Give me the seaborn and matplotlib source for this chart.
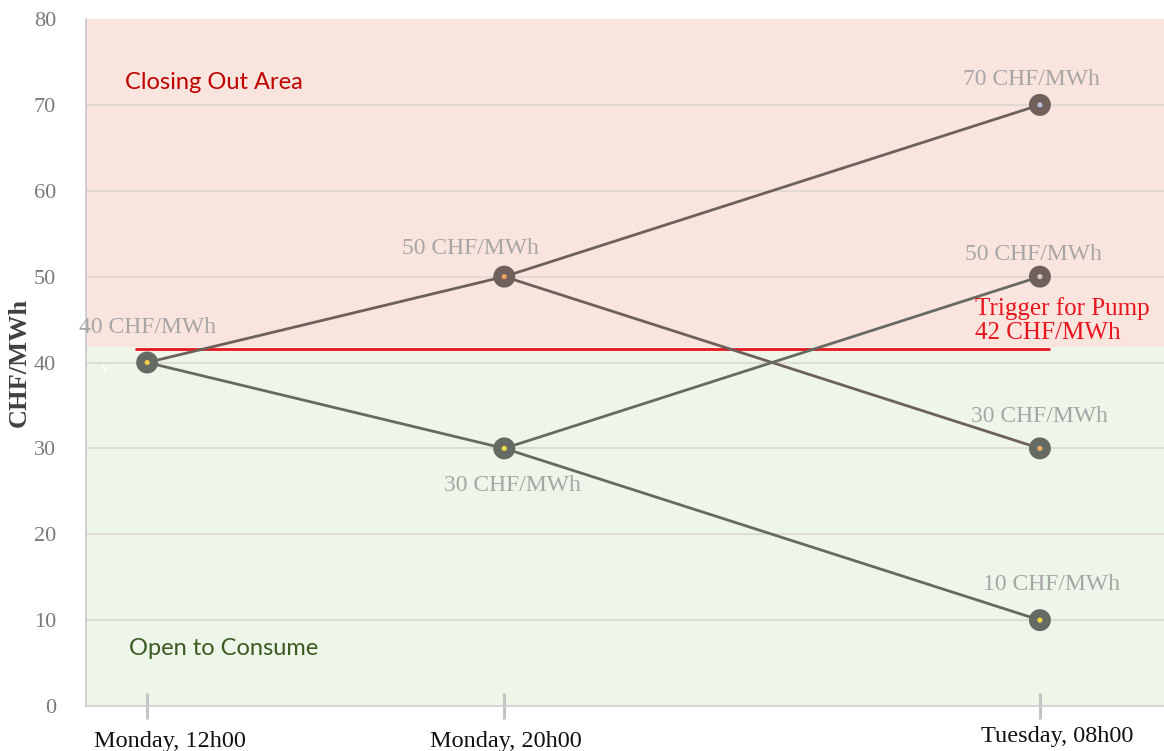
import numpy as np
import pandas as pd
import seaborn as sns
import matplotlib.pyplot as plt
import matplotlib.transforms as mtrans

# x position = hours after Monday 12h00
tick_hours = [0, 8, 20]
tick_labels = ["Monday, 12h00", "Monday, 20h00", "Tuesday, 08h00"]

# price paths, one row per segment
seg_x0 = [0, 0, 8, 8, 8, 8]
seg_x1 = [8, 8, 20, 20, 20, 20]
seg_y0 = [40, 40, 50, 50, 30, 30]
seg_y1 = [50, 30, 70, 30, 50, 10]
seg_branch = ["up", "down", "up", "up", "down", "down"]

# nodes of the tree
node_hours = [0, 8, 8, 20, 20, 20, 20]
node_prices = [40, 50, 30, 70, 50, 30, 10]
node_branch = ["down", "up", "down", "up", "up", "down", "down"]
node_core = ["#f2c94c", "#f0a060", "#f2d94c", "#b8bfe0", "#d8c8c0", "#e8b070", "#f2d94c"]
node_labels = ["40 CHF/MWh", "50 CHF/MWh", "30 CHF/MWh", "70 CHF/MWh",
               "50 CHF/MWh", "30 CHF/MWh", "10 CHF/MWh"]
label_offsets = [(0, 25), (-24, 20), (6, -27), (-6, 18), (-5, 16), (0, 23), (8, 26)]

trigger_drawn = 41.6   # where the red line sits in the picture
trigger_label = "Trigger for Pump\n42 CHF/MWh"

colors = {"up": "#6f605b", "down": "#656b62"}

rows = []
for i in range(len(seg_x0)):
    rows.append({"seg": i, "hour": seg_x0[i], "price": seg_y0[i], "branch": seg_branch[i]})
    rows.append({"seg": i, "hour": seg_x1[i], "price": seg_y1[i], "branch": seg_branch[i]})
df = pd.DataFrame(rows)
nodes = pd.DataFrame({"hour": node_hours, "price": node_prices, "branch": node_branch})

sns.set_style("white")
fig = plt.figure(figsize=(11.64, 7.51), dpi=100)
ax = fig.add_axes([0.0739, 0.0599, 0.9261, 0.9148])

ax.set_xlim(-1.37, 22.78)
ax.set_ylim(0, 80)

# background zones
ax.axhspan(trigger_drawn + 0.15, 80, color="#fae4de", zorder=0, lw=0)
ax.axhspan(0, trigger_drawn + 0.15, color="#eef5e9", zorder=0, lw=0)
ax.set_yticks(np.arange(0, 81, 10))
for y in np.arange(10, 80, 10):
    ax.axhline(y, color="#dcd8d2", lw=1.2, zorder=1)

# trigger line
ax.plot([-0.25, 20.2], [trigger_drawn, trigger_drawn], color="#e8141c", lw=2, zorder=2)

sns.lineplot(data=df, x="hour", y="price", hue="branch", units="seg", estimator=None,
             palette=colors, lw=2, legend=False, ax=ax, zorder=3)
sns.scatterplot(data=nodes, x="hour", y="price", hue="branch", palette=colors,
                s=250, linewidth=0, legend=False, ax=ax, zorder=4)
ax.scatter(node_hours, node_prices, s=14, c=node_core, linewidths=0, zorder=5)

serif = ["Liberation Serif", "DejaVu Serif"]
for h, p, lab, off in zip(node_hours, node_prices, node_labels, label_offsets):
    ax.annotate(lab, (h, p), xytext=off, textcoords="offset points", ha="center",
                va="center", fontsize=17, color="#a6a6a6", family=serif, zorder=6)

ax.text(18.55, 44.9, trigger_label, color="#e8141c", fontsize=18, family=serif,
        ha="left", va="center", linespacing=1.15, zorder=6)
ax.text(-0.5, 72.6, "Closing Out Area", color="#c00000", fontsize=17, family="Lato",
        ha="left", va="center")
ax.text(-0.4, 6.7, "Open to Consume", color="#3a5a20", fontsize=17, family="Lato",
        ha="left", va="center")
ax.text(-0.95, 39.3, "v", color="white", fontsize=12, family=serif, ha="center", va="center")

ax.set_xticks(tick_hours)
ax.set_xticklabels(tick_labels, fontsize=17.5, family=serif, color="#111111")
ax.tick_params(axis="x", bottom=True, direction="inout", length=19, width=2.2,
               color="#c4c4c4", pad=6)
ax.tick_params(axis="y", left=False, pad=18, labelsize=16, labelcolor="#7a7a7a")
for t in ax.get_yticklabels():
    t.set_family(serif)

# the category labels in the picture are not quite centred on their ticks
shifts = [(0.23, -0.03), (0.02, -0.03), (0.17, 0.02)]
for t, (dx, dy) in zip(ax.get_xticklabels(), shifts):
    t.set_transform(t.get_transform() + mtrans.ScaledTranslation(dx, dy, fig.dpi_scale_trans))

ax.set_xlabel("")
ax.set_ylabel("CHF/MWh", fontsize=19, family=serif, fontweight="bold", color="#404040")
ax.yaxis.set_label_coords(-0.051, 0.5)

for s in ["top", "right"]:
    ax.spines[s].set_visible(False)
ax.spines["left"].set_color("#c8c8c8")
ax.spines["bottom"].set_color("#d0d0d0")
ax.spines["left"].set_linewidth(1.2)
ax.spines["bottom"].set_linewidth(1.2)

fig.savefig("out.png", dpi=100)
